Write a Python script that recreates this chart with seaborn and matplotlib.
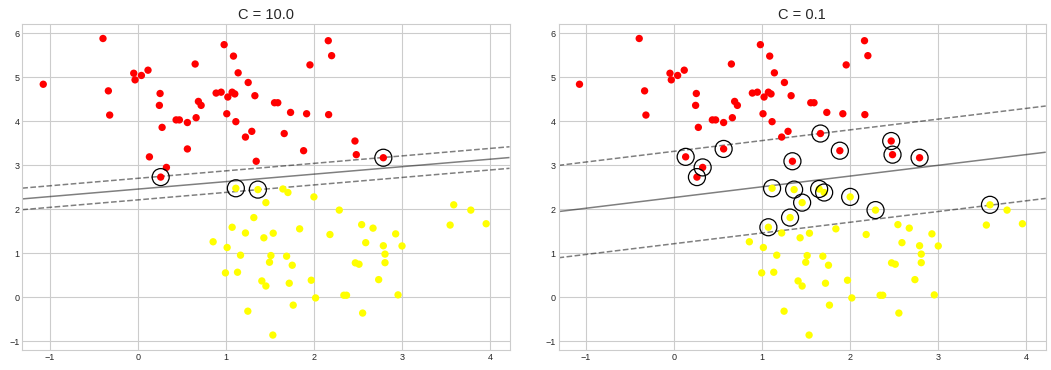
import numpy as np
import pandas as pd
import matplotlib
matplotlib.use("Agg")
import matplotlib.pyplot as plt
import seaborn as sns

# ---- data ----
red_x = [-1.072, -0.394, -0.333, -0.318, -0.045, -0.030, 0.042, 0.117, 0.254, 0.246,
         0.277, 0.133, 0.326, 0.261, 0.436, 0.473, 0.564, 0.564, 0.652, 0.663,
         0.689, 0.720, 0.890, 0.947, 0.981, 1.023, 1.072, 1.102, 1.011, 1.114,
         1.087, 1.140, 1.254, 1.330, 1.295, 1.223, 1.345, 2.163, 2.201, 1.955,
         1.553, 1.590, 1.735, 1.917, 2.167, 1.663, 1.883, 2.466, 2.481, 2.788]
red_y = [4.84, 5.88, 4.69, 4.14, 5.09, 4.94, 5.04, 5.16, 4.63, 4.36,
         3.86, 3.19, 2.95, 2.73, 4.03, 4.03, 3.97, 3.37, 5.30, 4.08,
         4.45, 4.36, 4.64, 4.66, 5.74, 4.55, 4.66, 4.62, 4.17, 3.99,
         5.48, 5.10, 4.88, 4.58, 3.77, 3.64, 3.09, 5.83, 5.49, 5.28,
         4.42, 4.42, 4.20, 4.17, 4.15, 3.72, 3.33, 3.55, 3.24, 3.17]
yellow_x = [1.114, 1.364, 1.455, 1.318, 1.072, 1.223, 1.432, 0.856, 1.015, 1.167,
            0.996, 1.133, 1.409, 1.455, 1.250, 1.648, 1.705, 2.000, 2.288, 1.538,
            1.838, 2.182, 2.542, 2.671, 2.588, 2.928, 3.000, 2.788, 2.807, 2.807,
            3.587, 3.781, 3.546, 3.955, 1.512, 1.496, 1.690, 1.754, 2.470, 2.512,
            1.720, 1.970, 2.735, 2.019, 2.340, 2.370, 2.955, 1.765, 2.553, 1.534]
yellow_y = [2.476, 2.446, 2.15, 1.81, 1.59, 1.46, 1.35, 1.26, 1.13, 0.955,
            0.553, 0.568, 0.37, 0.255, -0.317, 2.46, 2.38, 2.28, 1.98, 1.455,
            1.554, 1.425, 1.65, 1.57, 1.24, 1.44, 1.165, 1.17, 0.98, 0.785,
            2.10, 1.98, 1.64, 1.67, 0.947, 0.795, 0.932, 0.727, 0.781, 0.750,
            0.318, 0.386, 0.400, -0.016, 0.045, 0.045, 0.053, -0.180, -0.360, -0.860]

C_values = [10.0, 0.1]
# decision boundary: y = slope*x + intercept, margin half-width
boundary_slope = [0.170, 0.244]
boundary_intercept = [2.457, 2.266]
margin_halfwidth = [0.245, 1.05]
# indices of circled support vectors (red 0-49, yellow 50-99)
support_idx = [
    [13, 49, 50, 51],
    [11, 12, 13, 17, 36, 45, 46, 47, 48, 49, 50, 51, 52, 53, 54, 65, 66, 67, 68, 80],
]

df = pd.DataFrame({
    "x": red_x + yellow_x,
    "y": red_y + yellow_y,
    "label": [0] * len(red_x) + [1] * len(yellow_x),
})

sns.set_style("whitegrid")
plt.rcParams["font.family"] = ["Liberation Sans", "DejaVu Sans"]

fig, axes = plt.subplots(1, 2, figsize=(10.51, 3.70), dpi=100)
fig.subplots_adjust(left=0.0212, right=0.995, bottom=0.054, top=0.934, wspace=0.1006)

xlim = (-1.31, 4.22)
ylim = (-1.2, 6.2)
for ax, C, m, b, hw, sv in zip(axes, C_values, boundary_slope, boundary_intercept,
                               margin_halfwidth, support_idx):
    sns.scatterplot(data=df, x="x", y="y", hue="label", palette=["#ff0000", "#ffff00"],
                    s=28, linewidth=0, legend=False, ax=ax, zorder=3)
    ax.set_xlim(*xlim)
    ax.set_ylim(*ylim)
    gx = np.linspace(xlim[0], xlim[1], 40)
    gy = np.linspace(ylim[0], ylim[1], 40)
    X, Y = np.meshgrid(gx, gy)
    P = (Y - m * X - b) / hw
    ax.contour(X, Y, P, colors="k", levels=[-1, 0, 1], alpha=0.5,
               linestyles=["--", "-", "--"], linewidths=1.1)
    sub = df.iloc[sv]
    ax.scatter(sub["x"], sub["y"], s=150, facecolors="none", edgecolors="k",
               linewidths=0.9, zorder=4)
    ax.set_title(f"C = {C:.1f}", fontsize=10.5, pad=4)
    ax.set_xlabel("")
    ax.set_ylabel("")
    ax.set_xticks([-1, 0, 1, 2, 3, 4])
    ax.set_yticks([-1, 0, 1, 2, 3, 4, 5, 6])
    ax.tick_params(labelsize=6.5, pad=2, length=0)

fig.savefig("out.png", dpi=100)
